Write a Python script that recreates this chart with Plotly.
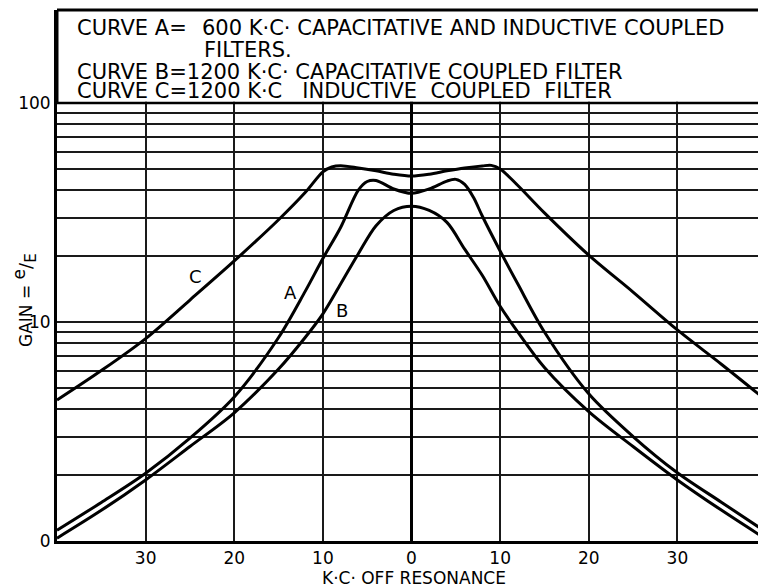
import plotly.graph_objects as go
import math

# ---- data ----
kc_c = [-40, -35, -30, -25, -20, -15, -12, -10, -9, -8, -6, -4, -2, 0, 2, 4, 6, 8, 9, 10, 12, 15, 20, 25, 30, 35, 40]
gain_c = [4.4, 6.0, 8.4, 12.6, 19.0, 29.3, 39, 48.5, 51, 51.7, 50.5, 49, 47.3, 46.4, 47.3, 49, 50.5, 51.6, 51.9, 50, 42, 31.5, 20.2, 13.7, 9.2, 6.4, 4.4]

kc_a = [-40, -35, -30, -25, -20, -15, -12, -10, -8, -6, -5, -4, -2, 0, 2, 4, 5, 6, 7, 8, 10, 12, 15, 20, 25, 30, 35, 40]
gain_a = [1.12, 1.5, 2.04, 2.95, 4.55, 8.5, 13.8, 19.5, 27, 40, 43.8, 44.3, 40.5, 38.7, 40.5, 44.0, 44.8, 42.5, 37, 30.4, 21.1, 14.9, 9.0, 4.7, 3.0, 2.05, 1.5, 1.1]

kc_b = [-40, -35, -30, -25, -20, -15, -12, -10, -8, -6, -4, -2, 0, 2, 4, 6, 8, 10, 12, 15, 20, 25, 30, 35, 40]
gain_b = [1.03, 1.38, 1.90, 2.7, 3.85, 6.1, 8.5, 10.9, 14.9, 20.5, 27.5, 32.3, 33.8, 32.3, 28.5, 21.5, 16.3, 11.8, 9.0, 6.2, 3.9, 2.7, 1.9, 1.38, 1.02]

x_tickvals = [-30, -20, -10, 0, 10, 20, 30]
x_ticktext = ["30", "20", "10", "0", "10", "20", "30"]
y_tickvals = [1, 10, 100]
y_ticktext = ["0", "10", "100"]
y_minor = [2, 3, 4, 5, 6, 7, 8, 9, 20, 30, 40, 50, 60, 70, 80, 90]

curve_labels = ["C", "A", "B"]
curve_label_x = [-24.4, -13.7, -7.8]
curve_label_y = [16.1, 13.7, 11.3]

legend_lines = [
    "CURVE A=",
    "600 K·C· CAPACITATIVE AND INDUCTIVE COUPLED",
    "FILTERS.",
    "CURVE B=1200 K·C· CAPACITATIVE COUPLED FILTER",
    "CURVE C=1200 K·C   INDUCTIVE  COUPLED  FILTER",
]

FONT = "DejaVu Sans"
W, H = 766, 588
# the page body has an 8px offset; plot area should sit at x 57..766, y 10..541 on the page
L, R, T, B = 49, 8, 2, 55
PW, PH = W - L - R, H - T - B


def px(x):
    return (x - 57) / PW


def py(y):
    return (541 - y) / PH


fig = go.Figure()
for xs, ys in [(kc_c, gain_c), (kc_a, gain_a), (kc_b, gain_b)]:
    fig.add_trace(go.Scatter(x=xs, y=ys, mode="lines",
                             line=dict(color="black", width=3, shape="spline", smoothing=0.9),
                             showlegend=False, hoverinfo="skip"))

ytop = (541 - 10) / 219.0  # log10 value at top of plot area

fig.update_layout(
    width=W, height=H,
    margin=dict(l=L, r=R, t=T, b=B, pad=0),
    paper_bgcolor="white", plot_bgcolor="white",
    font=dict(family=FONT, color="black"),
    xaxis=dict(range=[-40, 40], tickmode="array", tickvals=x_tickvals, ticktext=x_ticktext,
               showgrid=True, gridcolor="#1a1a1a", gridwidth=1.8,
               zeroline=True, zerolinecolor="black", zerolinewidth=2.6,
               showline=True, linecolor="black", linewidth=3, ticks="",
               tickfont=dict(size=17, family=FONT, color="black")),
    yaxis=dict(type="log", range=[0, ytop], tickmode="array", tickvals=y_tickvals, ticktext=y_ticktext,
               showgrid=True, gridcolor="#1a1a1a", gridwidth=1.8,
               minor=dict(tickmode="array", tickvals=y_minor, showgrid=True, gridcolor="#1a1a1a", gridwidth=1.8, ticks=""),
               zeroline=False, showline=True, linecolor="black", linewidth=3, ticks="",
               tickfont=dict(size=17, family=FONT, color="black")),
)

# legend box above the 100 line (shapes take data values on the log axis here)
fig.add_shape(type="rect", xref="x", yref="y", x0=-40, x1=40, y0=101.2, y1=10 ** (ytop + 0.05),
              fillcolor="white", line=dict(width=0), layer="above")
fig.add_shape(type="line", xref="paper", yref="paper", x0=0, x1=1, y0=1, y1=1,
              line=dict(color="black", width=3), layer="above")
fig.add_shape(type="line", xref="paper", yref="paper", x0=0, x1=0, y0=py(103), y1=1,
              line=dict(color="black", width=3), layer="above")
fig.add_shape(type="line", xref="x", yref="y", x0=-40, x1=40, y0=100, y1=100,
              line=dict(color="black", width=2.6), layer="above")

legend_pos = [(75, 28), (200, 28), (202, 49.5), (75, 71.7), (75, 91.3)]
for txt, (lx, ly) in zip(legend_lines, legend_pos):
    fig.add_annotation(text=txt, xref="paper", yref="paper", x=px(lx), y=py(ly),
                       xanchor="left", yanchor="middle", showarrow=False,
                       font=dict(size=21, family=FONT, color="black"))

for t, lx, ly in zip(curve_labels, curve_label_x, curve_label_y):
    fig.add_annotation(text=t, x=lx, y=math.log10(ly), xref="x", yref="y",
                       showarrow=False, font=dict(size=18, family=FONT, color="black"))

fig.add_annotation(text="GAIN = <sup><span style='font-size:17px'>e</span></sup><span style='font-size:18px'>/</span><sub><span style='font-size:15px'>E</span></sub>",
                   xref="paper", yref="paper",
                   x=px(25), y=py(300), xanchor="center", yanchor="middle",
                   textangle=-90, showarrow=False, borderpad=0,
                   font=dict(size=17, family=FONT, color="black"))
fig.add_annotation(text="K·C· OFF RESONANCE", xref="paper", yref="paper",
                   x=px(414), y=py(578), xanchor="center", yanchor="middle", showarrow=False,
                   font=dict(size=17, family=FONT, color="black"))

fig.write_html("out.html")
